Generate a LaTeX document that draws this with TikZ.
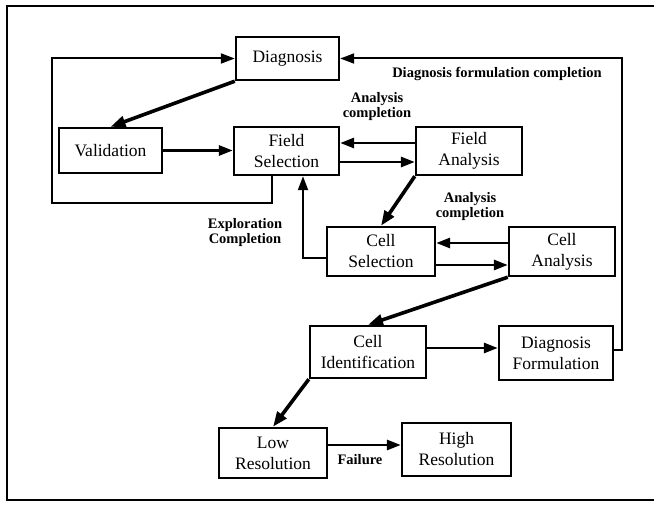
\documentclass[tikz,border=0pt]{standalone}
\usepackage{fontspec}
\setmainfont{Liberation Serif}
\usetikzlibrary{arrows.meta}

\tikzset{
  stagebox/.style={draw, line width=2.4pt, inner sep=0pt, align=center,
    font=\fontsize{17.5}{21}\selectfont},
  flow/.style={line width=2.8pt, -{Triangle[length=14pt,width=10pt]}},
  heavyflow/.style={line width=3.6pt, -{Triangle[length=15pt,width=11pt]}},
  loopline/.style={line width=2pt, -{Triangle[length=14pt,width=10pt]}},
  edgelabel/.style={align=center, inner sep=0pt,
    font=\bfseries\fontsize{14.5}{15}\selectfont},
  framelines/.style={line width=2pt}
}

\begin{document}
\begin{tikzpicture}[x=1pt,y=-1pt]
  \useasboundingbox (0,0) rectangle (654,508);

  % outer frame, open to the right
  \draw[framelines] (654,6) -- (7,6) -- (7,500) -- (654,500);

  % stages
  \node[stagebox, minimum width=103pt, minimum height=43pt] (dg) at (287.5,58.5) {Diagnosis};
  \node[stagebox, minimum width=103pt, minimum height=45pt] (va) at (110.5,150.5) {Validation};
  \node[stagebox, minimum width=105pt, minimum height=48pt] (fs) at (286.5,151) {Field\\Selection};
  \node[stagebox, minimum width=106pt, minimum height=48pt] (fa) at (469,151) {Field\\Analysis};
  \node[stagebox, minimum width=108pt, minimum height=49pt] (cs) at (381,251.5) {Cell\\Selection};
  \node[stagebox, minimum width=106pt, minimum height=49pt] (ca) at (562,251.5) {Cell\\Analysis};
  \node[stagebox, minimum width=116pt, minimum height=52pt] (ci) at (368,352) {Cell\\Identification};
  \node[stagebox, minimum width=114pt, minimum height=54pt] (df) at (556,353) {Diagnosis\\Formulation};
  \node[stagebox, minimum width=108pt, minimum height=50pt] (lr) at (273,453) {Low\\Resolution};
  \node[stagebox, minimum width=109pt, minimum height=53pt] (hr) at (456.5,449.5) {High\\Resolution};

  % routing corners
  \coordinate (leftloop) at (52,203);

  % connectors
  \draw[heavyflow] (dg.south west) -- (va.north);
  \draw[flow] (va.east) -- (va.east -| fs.west);
  \draw[loopline] ([xshift=-14.5pt]fs.south) |- (leftloop) |- (dg.west);
  \draw[flow] ([yshift=8pt]fa.west) -- ([yshift=8pt]fa.west -| fs.east);
  \draw[flow] ([yshift=-11pt]fs.east) -- ([yshift=-11pt]fs.east -| fa.west);
  \draw[heavyflow] (fa.south west) -- (cs.north);
  \draw[flow] ([yshift=8.5pt]ca.west) -- ([yshift=8.5pt]ca.west -| cs.east);
  \draw[flow] ([yshift=-13.5pt]cs.east) -- ([yshift=-13.5pt]cs.east -| ca.west);
  \draw[loopline] ([yshift=-6.5pt]cs.west) -| ([xshift=16.5pt]fs.south);
  \draw[heavyflow] (ca.south west) -- (ci.north);
  \draw[flow] ([yshift=4pt]ci.east) -- ([yshift=4pt]ci.east -| df.west);
  \draw[loopline] ([yshift=3pt]df.east) -- ++(8,0) |- (dg.east);
  \draw[heavyflow] (ci.south west) -- (lr.north);
  \draw[flow] ([yshift=8pt]lr.east) -- ([yshift=8pt]lr.east -| hr.west);

  % transition labels
  \node[edgelabel] (lbl-dfc) at (497,74) {Diagnosis formulation completion};
  \node[edgelabel] (lbl-fac) at (377,107) {Analysis\\completion};
  \node[edgelabel] (lbl-cac) at (470,207) {Analysis\\completion};
  \node[edgelabel] (lbl-exp) at (245,233) {Exploration\\Completion};
  \node[edgelabel] (lbl-fail) at (360,460) {Failure};
\end{tikzpicture}
\end{document}
